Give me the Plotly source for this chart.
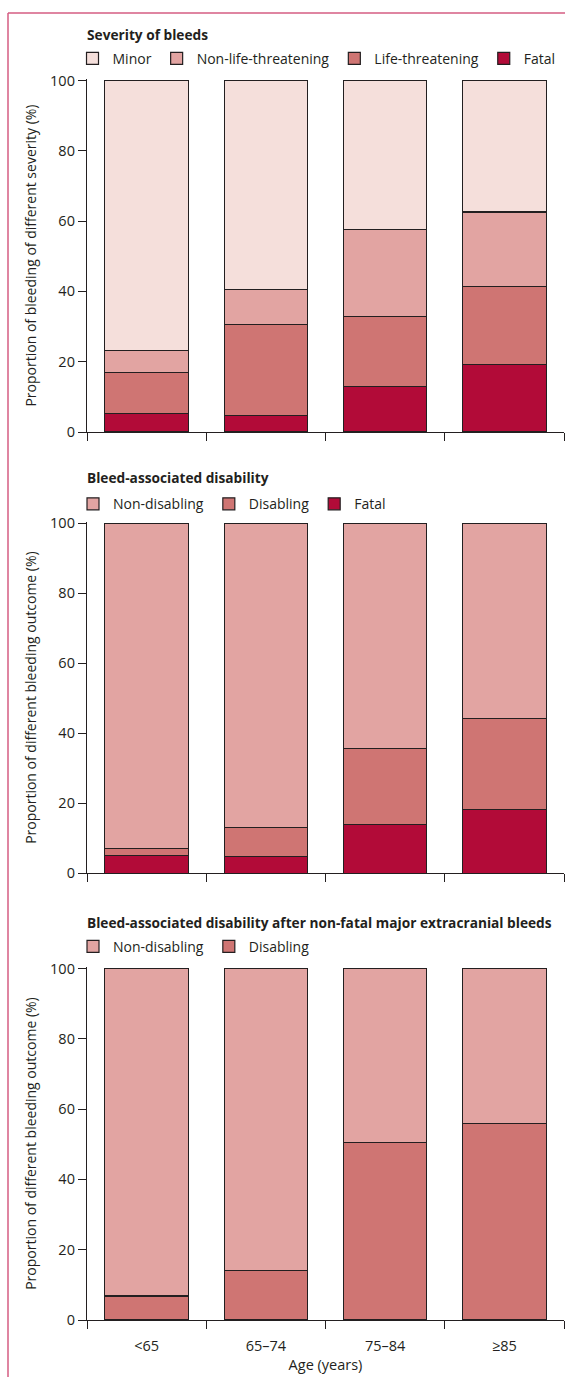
import plotly.graph_objects as go

# ---------------- data ----------------
ages = ["<65", "65–74", "75–84", "≥85"]

sev_fatal = [5.3, 4.8, 13.0, 19.3]
sev_life = [11.6, 25.7, 19.8, 22.1]
sev_nonlife = [6.4, 10.1, 24.7, 21.2]
sev_minor = [76.7, 59.4, 42.5, 37.4]

dis_fatal = [5.1, 4.7, 14.0, 18.2]
dis_disabling = [2.1, 8.3, 21.6, 26.0]
dis_nondisabling = [92.8, 87.0, 64.4, 55.8]

nf_disabling = [6.8, 14.0, 50.6, 55.9]
nf_nondisabling = [93.2, 86.0, 49.4, 44.1]

y_ticks = [0, 20, 40, 60, 80, 100]

# ---------------- style ----------------
W, H = 565, 1377
ML, MR, MT, MB = 73, 1, 78, 57
PW, PH = W - ML - MR, H - MT - MB
AXIS_LEFT = 87
INK = "#231f20"
C_MINOR = "#f5dfdb"
C_NONLIFE = "#e2a4a2"
C_LIFE = "#cf7573"
C_FATAL = "#b20b38"
BORDER = "#d45c82"
FONT = "Open Sans"
FS = 14.5


def px_x(p):
    return (p - ML) / PW


def px_y(p):
    return (H - MB - p) / PH


YMAX = 100.4
panels = [  # (pixel of value 0, px per unit)
    (432.0, 3.515),
    (873.3, 3.5),
    (1320.0, 3.515),
]
domains = [[px_y(y0), px_y(y0 - YMAX * s)] for y0, s in panels]

fig = go.Figure()


def add_bar(name, vals, color, ax, legend):
    fig.add_trace(go.Bar(
        x=ages, y=vals, name=name,
        marker=dict(color=color, line=dict(color=INK, width=1.2)),
        xaxis="x" + ax, yaxis="y" + ax, legend=legend,
        hovertemplate="%{x}: %{y}%<extra>" + name + "</extra>",
    ))


add_bar("Fatal", sev_fatal, C_FATAL, "", "legend")
add_bar("Life-threatening", sev_life, C_LIFE, "", "legend")
add_bar("Non-life-threatening", sev_nonlife, C_NONLIFE, "", "legend")
add_bar("Minor", sev_minor, C_MINOR, "", "legend")

add_bar("Fatal", dis_fatal, C_FATAL, "2", "legend2")
add_bar("Disabling", dis_disabling, C_LIFE, "2", "legend2")
add_bar("Non-disabling", dis_nondisabling, C_NONLIFE, "2", "legend2")

add_bar("Disabling", nf_disabling, C_LIFE, "3", "legend3")
add_bar("Non-disabling", nf_nondisabling, C_NONLIFE, "3", "legend3")

xcommon = dict(
    type="category", categoryorder="array", categoryarray=ages,
    range=[-0.5, 3.5], tickson="boundaries", ticks="outside", ticklen=8,
    tickwidth=1.3, tickcolor=INK, showline=True, linecolor=INK, linewidth=1.3,
    showgrid=False, zeroline=False, fixedrange=True, ticklabelstandoff=12,
    tickfont=dict(size=FS, color=INK, family=FONT),
)
ycommon = dict(
    range=[0, YMAX], tickvals=y_ticks, ticks="outside", ticklen=8,
    tickwidth=1.3, tickcolor=INK, showline=True, linecolor=INK, linewidth=1.3,
    showgrid=False, zeroline=False, fixedrange=True,
    tickfont=dict(size=FS, color=INK, family=FONT),
)

ytitles = [
    "Proportion of bleeding of different severity (%)",
    "Proportion of different bleeding outcome (%)",
    "Proportion of different bleeding outcome (%)",
]

layout = dict(
    width=W, height=H,
    margin=dict(l=ML, r=MR, t=MT, b=MB, autoexpand=False),
    paper_bgcolor="white", plot_bgcolor="white",
    font=dict(family=FONT, size=FS, color=INK),
    barmode="stack", bargap=0.3,
    showlegend=True,
)

for i, ax in enumerate(["", "2", "3"]):
    xa = dict(xcommon, anchor="y" + ax, domain=[px_x(AXIS_LEFT), 1],
              showticklabels=(ax == "3"))
    if ax == "3":
        xa["title"] = dict(text="Age (years)", standoff=6,
                           font=dict(size=FS, color=INK, family=FONT))
    ya = dict(ycommon, anchor="x" + ax, domain=domains[i],
              title=dict(text=ytitles[i], standoff=10,
                         font=dict(size=14, color=INK, family=FONT)))
    layout["xaxis" + ax] = xa
    layout["yaxis" + ax] = ya

legend_y = [58.7, 504.2, 946.7]
legend_x = [-0.001, 0, 0]
for i, key in enumerate(["legend", "legend2", "legend3"]):
    layout[key] = dict(
        orientation="h", x=legend_x[i], xanchor="left",
        y=px_y(legend_y[i]), yanchor="middle",
        traceorder="reversed", bgcolor="rgba(0,0,0,0)", borderwidth=0,
        font=dict(size=14, color=INK, family=FONT),
    )

fig.update_layout(**layout)

titles = [
    ("Severity of bleeds", 34.7),
    ("Bleed-associated disability", 477.5),
    ("Bleed-associated disability after non-fatal major extracranial bleeds", 922.0),
]
for text, yp in titles:
    fig.add_annotation(
        text="<b>" + text + "</b>", xref="paper", yref="paper",
        x=px_x(85), y=px_y(yp), xanchor="left", yanchor="middle",
        showarrow=False, font=dict(size=13.7, color=INK, family=FONT),
    )

# journal-style frame (top and left rule)
fig.add_shape(type="line", xref="paper", yref="paper",
              x0=px_x(8), x1=px_x(566), y0=px_y(13), y1=px_y(13),
              line=dict(color=BORDER, width=1.5))
fig.add_shape(type="line", xref="paper", yref="paper",
              x0=px_x(8), x1=px_x(8), y0=px_y(13), y1=px_y(1378),
              line=dict(color=BORDER, width=1.5))

fig.write_html(
    "out.html",
    config={"displayModeBar": False},
    post_script="document.body.style.margin='0px';document.body.style.padding='0px';",
)
